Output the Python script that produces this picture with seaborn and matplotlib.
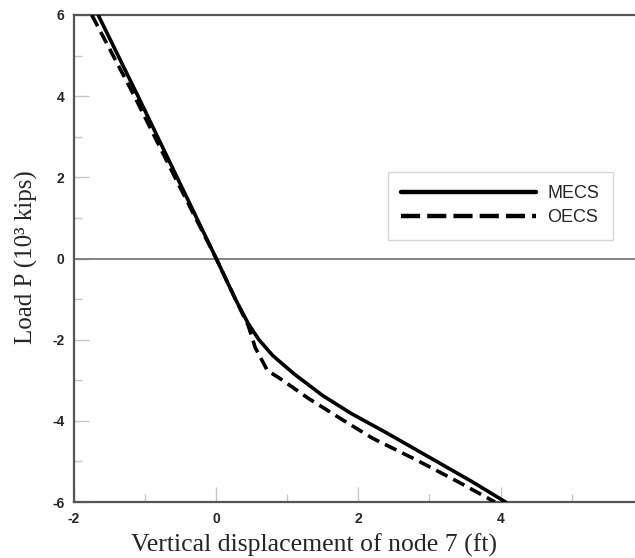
import matplotlib
matplotlib.use("Agg")
import matplotlib.pyplot as plt
from matplotlib.lines import Line2D
import seaborn as sns
import pandas as pd

# Data
mecs_x = [-1.66, -1.1, -0.55, 0.0, 0.27, 0.45, 0.6, 0.8, 1.1, 1.5, 1.9, 2.4, 3.0, 3.6, 4.07]
mecs_y = [6.0, 4.0, 2.0, 0.0, -1.0, -1.6, -2.0, -2.4, -2.85, -3.38, -3.82, -4.3, -4.9, -5.5, -6.0]
oecs_x = [-1.75, -1.15, -0.58, 0.0, 0.27, 0.45, 0.55, 0.72, 0.9, 1.3, 1.8, 2.2, 2.8, 3.4, 3.92]
oecs_y = [6.0, 4.0, 2.0, 0.0, -1.0, -1.65, -2.2, -2.76, -2.96, -3.45, -4.0, -4.43, -4.95, -5.5, -6.0]
x_ticks = [-2, 0, 2, 4]
y_ticks = [-6, -4, -2, 0, 2, 4, 6]
labels = ["MECS", "OECS"]

sns.set_style("white")
plt.rcParams['font.family'] = ['Liberation Sans', 'DejaVu Sans']

W, H = 635, 558
fig = plt.figure(figsize=(W / 100, H / 100), dpi=100)
ax = fig.add_axes([74 / W, 1 - 502 / H, (W - 74) / W + 0.01, (502 - 15) / H])

df1 = pd.DataFrame({"x": mecs_x, "y": mecs_y})
df2 = pd.DataFrame({"x": oecs_x, "y": oecs_y})
ax.axhline(0, color="#7a7a7a", lw=1.3, zorder=1)
sns.lineplot(data=df2, x="x", y="y", sort=False, ax=ax, color="black", lw=2.6,
             dashes=False, zorder=3)
ax.lines[-1].set_dashes((3.5, 1.8))
sns.lineplot(data=df1, x="x", y="y", sort=False, ax=ax, color="black", lw=2.6, zorder=4)

ax.set_xlim(-2, 5.98)
ax.set_ylim(-6, 6)
ax.set_xticks(x_ticks)
ax.set_yticks(y_ticks)
ax.set_xticks([-1, 1, 3, 5], minor=True)
ax.set_yticks([-5, -3, -1, 1, 3, 5], minor=True)
ax.set_xticklabels([str(t) for t in x_ticks])
ax.set_yticklabels([str(t) for t in y_ticks])
ax.tick_params(which="both", left=True, bottom=True, top=False, right=False)
ax.tick_params(which="major", direction="in", length=11, width=1.0, color="#c8c8c8",
               labelsize=10, pad=7)
ax.tick_params(which="minor", direction="in", length=6, width=1.0, color="#c8c8c8")
for lab in ax.get_xticklabels() + ax.get_yticklabels():
    lab.set_fontweight("bold")
for s in ["left", "bottom", "top"]:
    ax.spines[s].set_color("#555555")
    ax.spines[s].set_linewidth(1.6)
ax.spines["right"].set_visible(False)
ax.set_xlabel("")
ax.set_ylabel("")

fig.text(314 / W, 1 - 545 / H, "Vertical displacement of node 7 (ft)",
         family="Liberation Serif", fontsize=18.5, ha="center", va="center")
fig.text(26 / W, 1 - 257 / H, "Load P (10³ kips)", family="Liberation Serif",
         fontsize=18, ha="center", va="center", rotation=90)

handles = [Line2D([], [], color="black", lw=3.2),
           Line2D([], [], color="black", lw=3.2, dashes=(4.3, 1.6))]
leg = ax.legend(handles, labels, loc="upper left",
                bbox_to_anchor=((388 - 74) / (W - 74 + 6.35), 1 - (172 - 15) / (502 - 15)),
                frameon=True, fancybox=False, fontsize=13, handlelength=7.45,
                handletextpad=0.66, borderpad=0.73, labelspacing=0.4, borderaxespad=0)
leg.get_frame().set_edgecolor("#cccccc")
leg.get_frame().set_linewidth(1.0)

fig.savefig("out.png", dpi=100)
